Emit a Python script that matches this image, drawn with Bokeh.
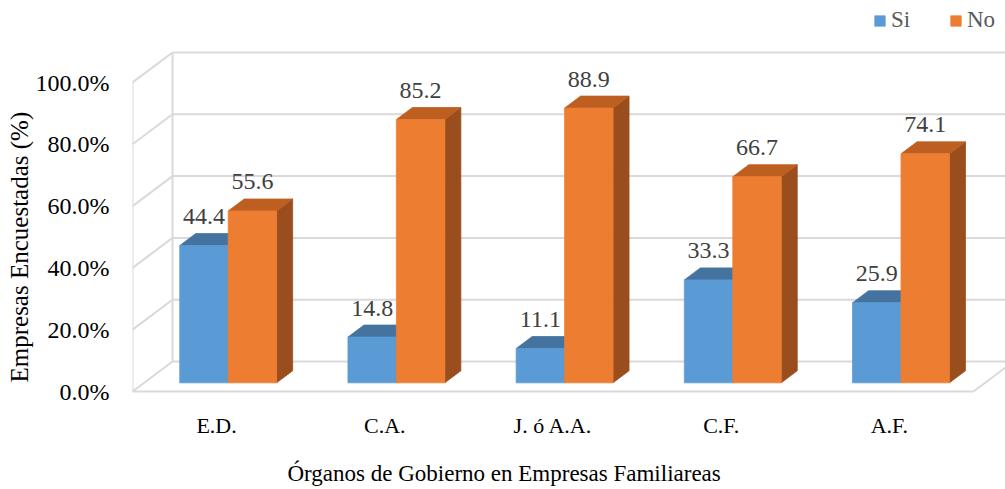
from bokeh.plotting import figure
from bokeh.models import (Range1d, LinearAxis, FixedTicker, PrintfTickFormatter,
                          Legend, LegendItem, Title)
from bokeh.embed import file_html
from bokeh.resources import INLINE
from bokeh.core.properties import value

# ---- data ----
categories = ["E.D.", "C.A.", "J. ó A.A.", "C.F.", "A.F."]
si_values = [44.4, 14.8, 11.1, 33.3, 25.9]
no_values = [55.6, 85.2, 88.9, 66.7, 74.1]
series_names = ["Si", "No"]
y_ticks = [0, 20, 40, 60, 80, 100]
x_title = "Órganos de Gobierno en Empresas Familiareas"
y_title = "Empresas Encuestadas (%)"

# ---- styling / geometry ----
FONT = "'Liberation Serif', 'Times New Roman', serif"
front_colors = ["#5B9BD5", "#ED7D31"]
top_colors = ["#44739F", "#BE5F22"]
side_colors = ["#3E6A93", "#9B4E1D"]
GRID = "#D9D9D9"

PX_X = 168.2      # pixels per category
PX_Y = 3.09       # pixels per percent
DX = 40 / PX_X    # full depth offset (x, data units)
DY = 30 / PX_Y    # full depth offset (y, data units)
D0 = 0.29         # depth fraction of bar front face
BD = 0.40         # bar depth fraction
BW = 0.288        # bar width (category units)

LEFT, BOTTOM = 132, 94
FRAME_W, FRAME_H = 873, 395
n = len(categories)
x_lo, x_hi = 0.5, n + 0.5
y_start = -4 / PX_Y
y_end = y_start + FRAME_H / PX_Y

p = figure(frame_width=FRAME_W, frame_height=FRAME_H,
           x_range=Range1d(x_lo, x_lo + FRAME_W / PX_X),
           y_range=Range1d(y_start, y_end),
           x_axis_type=None, y_axis_type=None,
           output_backend="svg", toolbar_location=None,
           min_border_left=LEFT, min_border_right=0,
           min_border_top=0, min_border_bottom=BOTTOM)
p.outline_line_color = None
p.background_fill_color = "white"

# ---- walls / floor ----
ymax = y_ticks[-1]
wxs, wys = [], []
for t in y_ticks:
    wxs.append([x_lo + DX, x_hi + DX]); wys.append([t + DY, t + DY])      # back wall grid
    wxs.append([x_lo, x_lo + DX]); wys.append([t, t + DY])                # side wall diagonals
wxs.append([x_lo, x_lo]); wys.append([0, ymax])                           # front-left edge
wxs.append([x_lo + DX, x_lo + DX]); wys.append([DY, ymax + DY])           # back-left edge
wxs.append([x_lo, x_hi]); wys.append([0, 0])                              # floor front
wxs.append([x_hi, x_hi + DX]); wys.append([0, DY])                        # floor right
wxs.append([x_hi + DX, x_hi + DX]); wys.append([DY, ymax + DY])           # back-right edge
p.multi_line(wxs, wys, line_color=GRID, line_width=2)

# ---- bars ----
front_renderers = []
for s, vals in enumerate([si_values, no_values]):
    fx, fy, tx, ty, sx, sy, lx, ly, lt = [], [], [], [], [], [], [], [], []
    for i, v in enumerate(vals):
        c = i + 1
        xl = c - BW + s * BW + D0 * DX
        xr = xl + BW
        yb = D0 * DY
        yt = v + D0 * DY
        fx.append([xl, xr, xr, xl]); fy.append([yb, yb, yt, yt])
        tx.append([xl, xr, xr + BD * DX, xl + BD * DX])
        ty.append([yt, yt, yt + BD * DY, yt + BD * DY])
        sx.append([xr, xr + BD * DX, xr + BD * DX, xr])
        sy.append([yb, yb + BD * DY, yt + BD * DY, yt])
        lx.append((xl + xr) / 2); ly.append(yt + 29 / PX_Y); lt.append(f"{v:.1f}")
    p.patches(sx, sy, fill_color=side_colors[s], line_color=side_colors[s], line_width=0.8)
    p.patches(tx, ty, fill_color=top_colors[s], line_color=top_colors[s], line_width=0.8)
    r = p.patches(fx, fy, fill_color=front_colors[s], line_color=front_colors[s], line_width=0.8)
    front_renderers.append(r)
    p.text(x=lx, y=ly, text=lt, text_align="center", text_baseline="alphabetic",
           text_font=value(FONT), text_font_size="24px", text_color="#404040")

# ---- axes ----
yaxis = LinearAxis(ticker=FixedTicker(ticks=y_ticks),
                   formatter=PrintfTickFormatter(format="%.1f%%"),
                   axis_line_color=None, major_tick_line_color=None,
                   minor_tick_line_color=None, major_tick_out=0, major_tick_in=0,
                   major_label_standoff=23,
                   major_label_text_font=FONT, major_label_text_font_size="24px",
                   major_label_text_color="#000000")
p.add_layout(yaxis, "left")

xaxis = LinearAxis(ticker=FixedTicker(ticks=list(range(1, n + 1))),
                   major_label_overrides={i + 1: c for i, c in enumerate(categories)},
                   axis_line_color=None, major_tick_line_color=None,
                   minor_tick_line_color=None, major_tick_out=0, major_tick_in=0,
                   major_label_standoff=17,
                   major_label_text_font=FONT, major_label_text_font_size="22px",
                   major_label_text_color="#000000",
                   axis_label=" ", axis_label_standoff=16,
                   axis_label_text_font_size="1px")
p.add_layout(xaxis, "below")

# axis titles
p.add_layout(Title(text=x_title, align="left", offset=155, vertical_align="top",
                   standoff=0, text_font=FONT, text_font_size="23px",
                   text_font_style="normal", text_color="#000000"), "below")
p.add_layout(Title(text=y_title, align="left", offset=13, standoff=0,
                   text_font=FONT, text_font_size="25px",
                   text_font_style="normal", text_color="#000000"), "left")

# ---- legend ----
legend = Legend(items=[LegendItem(label=series_names[k], renderers=[front_renderers[k]])
                       for k in range(2)],
                orientation="horizontal", location=(741, 362),
                glyph_width=13, glyph_height=13, label_standoff=5, spacing=38,
                padding=0, margin=0, label_height=22,
                label_text_font=FONT, label_text_font_size="23px",
                label_text_color="#595959",
                border_line_color=None, background_fill_alpha=0)
p.add_layout(legend, "center")

open("out.html", "w").write(file_html(p, INLINE))
